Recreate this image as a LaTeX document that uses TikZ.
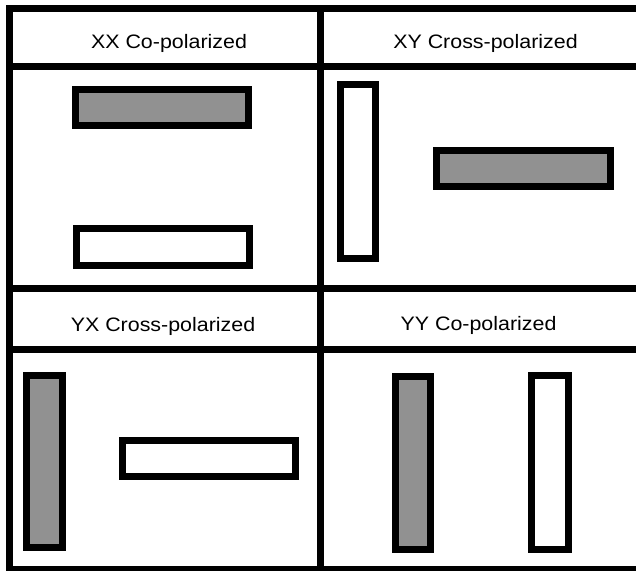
\documentclass[tikz,border=0pt]{standalone}
\usepackage{fontspec}
\setmainfont{Liberation Sans}
\begin{document}
\begin{tikzpicture}[x=0.75pt,y=-0.75pt,
  grid/.style={line width=5.25pt,line cap=rect},
  bar/.style={line width=5.25pt,draw=black},
  filledbar/.style={bar,fill=barfill},
  emptybar/.style={bar,fill=white},
  title/.style={anchor=base,inner sep=0pt,font=\fontsize{14.6pt}{16pt}\selectfont}]
\definecolor{barfill}{HTML}{919191}
\useasboundingbox[fill=white] (0,0) rectangle (636,571);

% panel grid
\draw[grid] (9.3,8) -- (640,8);
\draw[grid] (9.3,8) -- (9.3,569);
\draw[grid] (9.3,569) -- (640,569);
\draw[grid] (9.3,66) -- (640,66);
\draw[grid] (9.3,288.3) -- (640,288.3);
\draw[grid] (9.3,349) -- (640,349);
\draw[grid] (320.8,8) -- (320.8,569);

% panel titles
\newcommand\stretched[1]{\scalebox{1.1}[1]{#1}}
\node[title] (xx) at (169,48) {\stretched{XX Co-polarized}};
\node[title] (xy) at (485.5,48) {\stretched{XY Cross-polarized}};
\node[title] (yx) at (163,331) {\stretched{YX Cross-polarized}};
\node[title] (yy) at (478.5,330) {\stretched{YY Co-polarized}};

% XX panel
\draw[filledbar] (75.2,89.2) rectangle (248.5,125.8);
\draw[emptybar] (76.2,228.5) rectangle (249.5,265.2);

% XY panel
\draw[emptybar] (340.2,84.2) rectangle (375.8,258.2);
\draw[filledbar] (436.2,150.2) rectangle (610.5,186.5);

% YX panel
\draw[filledbar] (26.5,375.5) rectangle (62.5,547.5);
\draw[emptybar] (122.8,440.5) rectangle (295.5,476.8);

% YY panel
\draw[filledbar] (395.2,376.2) rectangle (430.8,549.8);
\draw[emptybar] (531.8,375.2) rectangle (568.2,549.2);
\end{tikzpicture}
\end{document}
